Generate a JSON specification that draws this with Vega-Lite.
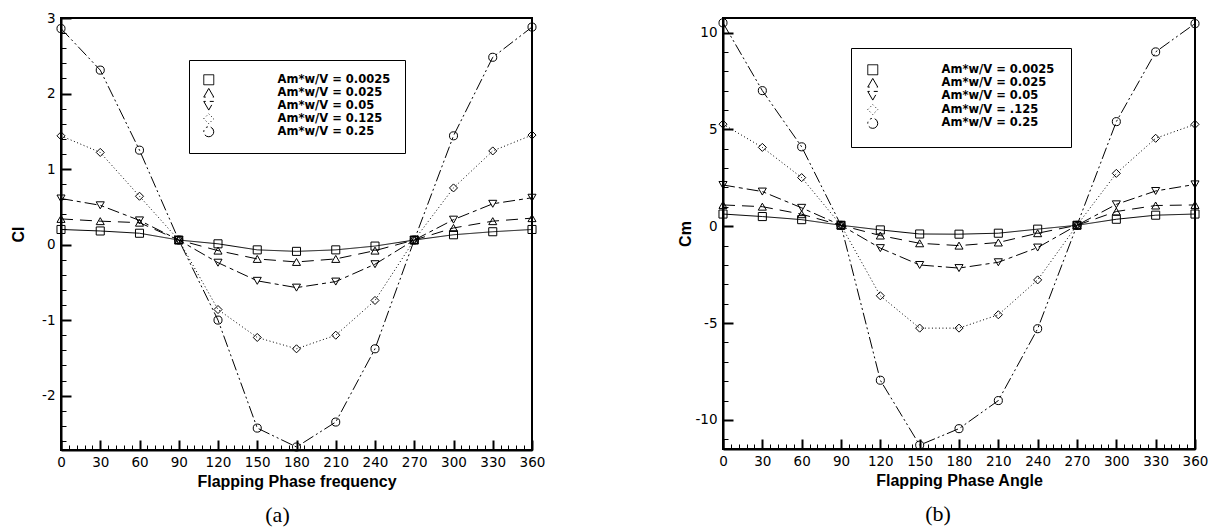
{
  "$schema": "https://vega.github.io/schema/vega-lite/v6.json",
  "background": "white",
  "padding": {"left": 9, "top": 10, "right": 0, "bottom": 0},
  "spacing": 130,
  "resolve": {"scale": {"shape": "independent", "strokeDash": "independent"}, "legend": {"shape": "independent", "strokeDash": "independent"}},
  "config": {
    "view": {"stroke": "black", "strokeWidth": 2},
    "axis": {
      "grid": false, "domainColor": "black", "domainWidth": 2, "tickColor": "black",
      "labelFont": "DejaVu Sans", "labelFontSize": 13.5, "labelColor": "black",
      "titleFont": "Liberation Sans", "titleFontSize": 16, "titleFontWeight": "bold", "titleColor": "black",
      "labelOverlap": false, "labelFlush": false
    },
    "legend": {
      "orient": "none", "title": null, "strokeColor": "black", "fillColor": "white",
      "labelFont": "DejaVu Sans", "labelFontWeight": "bold", "labelFontSize": 11.5, "labelColor": "black",
      "symbolSize": 100, "symbolStrokeWidth": 1, "symbolStrokeColor": "black", "labelOffset": 63
    }
  },
  "datasets": {
    "cl": [
      {"phase": 0, "series": "Am*w/V = 0.0025", "value": 0.2},
      {"phase": 30, "series": "Am*w/V = 0.0025", "value": 0.18},
      {"phase": 60, "series": "Am*w/V = 0.0025", "value": 0.15},
      {"phase": 90, "series": "Am*w/V = 0.0025", "value": 0.06},
      {"phase": 120, "series": "Am*w/V = 0.0025", "value": 0.01},
      {"phase": 150, "series": "Am*w/V = 0.0025", "value": -0.07},
      {"phase": 180, "series": "Am*w/V = 0.0025", "value": -0.09},
      {"phase": 210, "series": "Am*w/V = 0.0025", "value": -0.07},
      {"phase": 240, "series": "Am*w/V = 0.0025", "value": -0.02},
      {"phase": 270, "series": "Am*w/V = 0.0025", "value": 0.06},
      {"phase": 300, "series": "Am*w/V = 0.0025", "value": 0.13},
      {"phase": 330, "series": "Am*w/V = 0.0025", "value": 0.17},
      {"phase": 360, "series": "Am*w/V = 0.0025", "value": 0.2},
      {"phase": 0, "series": "Am*w/V = 0.025", "value": 0.34},
      {"phase": 30, "series": "Am*w/V = 0.025", "value": 0.31},
      {"phase": 60, "series": "Am*w/V = 0.025", "value": 0.29},
      {"phase": 90, "series": "Am*w/V = 0.025", "value": 0.06},
      {"phase": 120, "series": "Am*w/V = 0.025", "value": -0.08},
      {"phase": 150, "series": "Am*w/V = 0.025", "value": -0.19},
      {"phase": 180, "series": "Am*w/V = 0.025", "value": -0.23},
      {"phase": 210, "series": "Am*w/V = 0.025", "value": -0.19},
      {"phase": 240, "series": "Am*w/V = 0.025", "value": -0.08},
      {"phase": 270, "series": "Am*w/V = 0.025", "value": 0.06},
      {"phase": 300, "series": "Am*w/V = 0.025", "value": 0.22},
      {"phase": 330, "series": "Am*w/V = 0.025", "value": 0.31},
      {"phase": 360, "series": "Am*w/V = 0.025", "value": 0.35},
      {"phase": 0, "series": "Am*w/V = 0.05", "value": 0.61},
      {"phase": 30, "series": "Am*w/V = 0.05", "value": 0.52},
      {"phase": 60, "series": "Am*w/V = 0.05", "value": 0.32},
      {"phase": 90, "series": "Am*w/V = 0.05", "value": 0.06},
      {"phase": 120, "series": "Am*w/V = 0.05", "value": -0.24},
      {"phase": 150, "series": "Am*w/V = 0.05", "value": -0.48},
      {"phase": 180, "series": "Am*w/V = 0.05", "value": -0.57},
      {"phase": 210, "series": "Am*w/V = 0.05", "value": -0.49},
      {"phase": 240, "series": "Am*w/V = 0.05", "value": -0.26},
      {"phase": 270, "series": "Am*w/V = 0.05", "value": 0.06},
      {"phase": 300, "series": "Am*w/V = 0.05", "value": 0.33},
      {"phase": 330, "series": "Am*w/V = 0.05", "value": 0.54},
      {"phase": 360, "series": "Am*w/V = 0.05", "value": 0.62},
      {"phase": 0, "series": "Am*w/V = 0.125", "value": 1.44},
      {"phase": 30, "series": "Am*w/V = 0.125", "value": 1.22},
      {"phase": 60, "series": "Am*w/V = 0.125", "value": 0.64},
      {"phase": 90, "series": "Am*w/V = 0.125", "value": 0.06},
      {"phase": 120, "series": "Am*w/V = 0.125", "value": -0.86},
      {"phase": 150, "series": "Am*w/V = 0.125", "value": -1.23},
      {"phase": 180, "series": "Am*w/V = 0.125", "value": -1.38},
      {"phase": 210, "series": "Am*w/V = 0.125", "value": -1.2},
      {"phase": 240, "series": "Am*w/V = 0.125", "value": -0.74},
      {"phase": 270, "series": "Am*w/V = 0.125", "value": 0.06},
      {"phase": 300, "series": "Am*w/V = 0.125", "value": 0.75},
      {"phase": 330, "series": "Am*w/V = 0.125", "value": 1.24},
      {"phase": 360, "series": "Am*w/V = 0.125", "value": 1.45},
      {"phase": 0, "series": "Am*w/V = 0.25", "value": 2.86},
      {"phase": 30, "series": "Am*w/V = 0.25", "value": 2.31},
      {"phase": 60, "series": "Am*w/V = 0.25", "value": 1.25},
      {"phase": 90, "series": "Am*w/V = 0.25", "value": 0.06},
      {"phase": 120, "series": "Am*w/V = 0.25", "value": -1.0},
      {"phase": 150, "series": "Am*w/V = 0.25", "value": -2.43},
      {"phase": 180, "series": "Am*w/V = 0.25", "value": -2.68},
      {"phase": 210, "series": "Am*w/V = 0.25", "value": -2.35},
      {"phase": 240, "series": "Am*w/V = 0.25", "value": -1.38},
      {"phase": 270, "series": "Am*w/V = 0.25", "value": 0.06},
      {"phase": 300, "series": "Am*w/V = 0.25", "value": 1.44},
      {"phase": 330, "series": "Am*w/V = 0.25", "value": 2.48},
      {"phase": 360, "series": "Am*w/V = 0.25", "value": 2.88}
    ],
    "cm": [
      {"phase": 0, "series": "Am*w/V = 0.0025", "value": 0.63},
      {"phase": 30, "series": "Am*w/V = 0.0025", "value": 0.5},
      {"phase": 60, "series": "Am*w/V = 0.0025", "value": 0.34},
      {"phase": 90, "series": "Am*w/V = 0.0025", "value": 0.05},
      {"phase": 120, "series": "Am*w/V = 0.0025", "value": -0.19},
      {"phase": 150, "series": "Am*w/V = 0.0025", "value": -0.4},
      {"phase": 180, "series": "Am*w/V = 0.0025", "value": -0.41},
      {"phase": 210, "series": "Am*w/V = 0.0025", "value": -0.36},
      {"phase": 240, "series": "Am*w/V = 0.0025", "value": -0.15},
      {"phase": 270, "series": "Am*w/V = 0.0025", "value": 0.05},
      {"phase": 300, "series": "Am*w/V = 0.0025", "value": 0.36},
      {"phase": 330, "series": "Am*w/V = 0.0025", "value": 0.57},
      {"phase": 360, "series": "Am*w/V = 0.0025", "value": 0.63},
      {"phase": 0, "series": "Am*w/V = 0.025", "value": 1.1},
      {"phase": 30, "series": "Am*w/V = 0.025", "value": 1.01},
      {"phase": 60, "series": "Am*w/V = 0.025", "value": 0.62},
      {"phase": 90, "series": "Am*w/V = 0.025", "value": 0.05},
      {"phase": 120, "series": "Am*w/V = 0.025", "value": -0.48},
      {"phase": 150, "series": "Am*w/V = 0.025", "value": -0.88},
      {"phase": 180, "series": "Am*w/V = 0.025", "value": -1.0},
      {"phase": 210, "series": "Am*w/V = 0.025", "value": -0.84},
      {"phase": 240, "series": "Am*w/V = 0.025", "value": -0.36},
      {"phase": 270, "series": "Am*w/V = 0.025", "value": 0.05},
      {"phase": 300, "series": "Am*w/V = 0.025", "value": 0.76},
      {"phase": 330, "series": "Am*w/V = 0.025", "value": 1.07},
      {"phase": 360, "series": "Am*w/V = 0.025", "value": 1.1},
      {"phase": 0, "series": "Am*w/V = 0.05", "value": 2.13},
      {"phase": 30, "series": "Am*w/V = 0.05", "value": 1.79},
      {"phase": 60, "series": "Am*w/V = 0.05", "value": 0.95},
      {"phase": 90, "series": "Am*w/V = 0.05", "value": 0.05},
      {"phase": 120, "series": "Am*w/V = 0.05", "value": -1.13},
      {"phase": 150, "series": "Am*w/V = 0.05", "value": -2.0},
      {"phase": 180, "series": "Am*w/V = 0.05", "value": -2.16},
      {"phase": 210, "series": "Am*w/V = 0.05", "value": -1.86},
      {"phase": 240, "series": "Am*w/V = 0.05", "value": -1.1},
      {"phase": 270, "series": "Am*w/V = 0.05", "value": 0.05},
      {"phase": 300, "series": "Am*w/V = 0.05", "value": 1.13},
      {"phase": 330, "series": "Am*w/V = 0.05", "value": 1.82},
      {"phase": 360, "series": "Am*w/V = 0.05", "value": 2.16},
      {"phase": 0, "series": "Am*w/V = .125", "value": 5.27},
      {"phase": 30, "series": "Am*w/V = .125", "value": 4.07},
      {"phase": 60, "series": "Am*w/V = .125", "value": 2.51},
      {"phase": 90, "series": "Am*w/V = .125", "value": 0.05},
      {"phase": 120, "series": "Am*w/V = .125", "value": -3.59},
      {"phase": 150, "series": "Am*w/V = .125", "value": -5.26},
      {"phase": 180, "series": "Am*w/V = .125", "value": -5.26},
      {"phase": 210, "series": "Am*w/V = .125", "value": -4.57},
      {"phase": 240, "series": "Am*w/V = .125", "value": -2.77},
      {"phase": 270, "series": "Am*w/V = .125", "value": 0.05},
      {"phase": 300, "series": "Am*w/V = .125", "value": 2.73},
      {"phase": 330, "series": "Am*w/V = .125", "value": 4.54},
      {"phase": 360, "series": "Am*w/V = .125", "value": 5.26},
      {"phase": 0, "series": "Am*w/V = 0.25", "value": 10.5},
      {"phase": 30, "series": "Am*w/V = 0.25", "value": 7.0},
      {"phase": 60, "series": "Am*w/V = 0.25", "value": 4.1},
      {"phase": 90, "series": "Am*w/V = 0.25", "value": 0.05},
      {"phase": 120, "series": "Am*w/V = 0.25", "value": -7.95},
      {"phase": 150, "series": "Am*w/V = 0.25", "value": -11.3},
      {"phase": 180, "series": "Am*w/V = 0.25", "value": -10.45},
      {"phase": 210, "series": "Am*w/V = 0.25", "value": -9.0},
      {"phase": 240, "series": "Am*w/V = 0.25", "value": -5.29},
      {"phase": 270, "series": "Am*w/V = 0.25", "value": 0.05},
      {"phase": 300, "series": "Am*w/V = 0.25", "value": 5.4},
      {"phase": 330, "series": "Am*w/V = 0.25", "value": 9.0},
      {"phase": 360, "series": "Am*w/V = 0.25", "value": 10.46}
    ]
  },
  "hconcat": [
    {
      "width": 471, "height": 432,
      "data": {"name": "cl"},
      "title": {"text": "(a)", "orient": "bottom", "anchor": "middle", "dx": -19, "offset": 15, "font": "Liberation Serif", "fontSize": 22, "fontWeight": "normal", "color": "black"},
      "resolve": {"axis": {"x": "independent", "y": "independent"}},
      "layer": [
        {
          "mark": {"type": "line", "color": "black", "strokeWidth": 1},
          "encoding": {
            "x": {"field": "phase", "type": "quantitative", "scale": {"domain": [0, 360], "nice": false},
              "axis": {"title": "Flapping Phase frequency", "orient": "bottom",
                "values": [0,30,60,90,120,150,180,210,240,270,300,330,360],
                "labelExpr": "toString(datum.value)",
                "tickSize": -10, "tickWidth": 2, "labelOverlap": false, "labelFlush": false,
                "labelPadding": 15, "titlePadding": 5}},
            "y": {"field": "value", "type": "quantitative", "scale": {"domain": [-2.72, 3], "nice": false, "zero": false},
              "axis": {"title": "Cl", "orient": "left",
                "values": [-2,-1,0,1,2,3],
                "labelExpr": "toString(datum.value)",
                "tickSize": -10, "tickWidth": 2, "labelOverlap": false, "labelFlush": false,
                "labelPadding": 16, "titlePadding": 15}},
            "strokeDash": {"field": "series", "type": "nominal",
              "scale": {"domain": ["Am*w/V = 0.0025", "Am*w/V = 0.025", "Am*w/V = 0.05", "Am*w/V = 0.125", "Am*w/V = 0.25"],
                "range": [[1, 0], [12, 7], [12, 4, 4, 4], [1, 2.5], [12, 3, 2, 3, 2, 3]]},
              "legend": {"legendX": 128, "legendY": 42, "padding": 14, "rowPadding": -3}}
          }
        },
        {
          "mark": {"type": "point", "filled": false, "color": "black", "strokeWidth": 1, "size": 65, "opacity": 1},
          "encoding": {
            "x": {"field": "phase", "type": "quantitative",
              "axis": {"title": null, "orient": "bottom", "labels": false, "domain": false, "tickSize": -5, "tickWidth": 1,
                "values": [6,12,18,24,36,42,48,54,66,72,78,84,96,102,108,114,126,132,138,144,156,162,168,174,186,192,198,204,216,222,228,234,246,252,258,264,276,282,288,294,306,312,318,324,336,342,348,354]}},
            "y": {"field": "value", "type": "quantitative",
              "axis": {"title": null, "orient": "left", "labels": false, "domain": false, "tickSize": -5, "tickWidth": 1,
                "values": [-2.6,-2.4,-2.2,-1.8,-1.6,-1.4,-1.2,-0.8,-0.6,-0.4,-0.2,0.2,0.4,0.6,0.8,1.2,1.4,1.6,1.8,2.2,2.4,2.6,2.8]}},
            "shape": {"field": "series", "type": "nominal",
              "scale": {"domain": ["Am*w/V = 0.0025", "Am*w/V = 0.025", "Am*w/V = 0.05", "Am*w/V = 0.125", "Am*w/V = 0.25"],
                "range": ["square", "triangle-up", "triangle-down", "diamond", "circle"]},
              "legend": {"legendX": 128, "legendY": 42, "padding": 14, "rowPadding": -3}}
          }
        }
      ]
    },
    {
      "width": 472, "height": 431,
      "data": {"name": "cm"},
      "title": {"text": "(b)", "orient": "bottom", "anchor": "middle", "dx": -21, "offset": 15, "font": "Liberation Serif", "fontSize": 22, "fontWeight": "normal", "color": "black"},
      "resolve": {"axis": {"x": "independent", "y": "independent"}},
      "layer": [
        {
          "mark": {"type": "line", "color": "black", "strokeWidth": 1},
          "encoding": {
            "x": {"field": "phase", "type": "quantitative", "scale": {"domain": [0, 360], "nice": false},
              "axis": {"title": "Flapping Phase Angle", "orient": "bottom",
                "values": [0,30,60,90,120,150,180,210,240,270,300,330,360],
                "labelExpr": "toString(datum.value)",
                "tickSize": -10, "tickWidth": 2, "labelOverlap": false, "labelFlush": false,
                "labelPadding": 15, "titlePadding": 5}},
            "y": {"field": "value", "type": "quantitative", "scale": {"domain": [-11.5, 10.75], "nice": false, "zero": false},
              "axis": {"title": "Cm", "orient": "left",
                "values": [-10,-5,0,5,10],
                "labelExpr": "toString(datum.value)",
                "tickSize": -10, "tickWidth": 2, "labelOverlap": false, "labelFlush": false,
                "labelPadding": 16, "titlePadding": 1}},
            "strokeDash": {"field": "series", "type": "nominal",
              "scale": {"domain": ["Am*w/V = 0.0025", "Am*w/V = 0.025", "Am*w/V = 0.05", "Am*w/V = .125", "Am*w/V = 0.25"],
                "range": [[1, 0], [12, 7], [12, 4, 4, 4], [1, 2.5], [12, 3, 2, 3, 2, 3]]},
              "legend": {"legendX": 128, "legendY": 30, "padding": 16, "rowPadding": -1.2}}
          }
        },
        {
          "mark": {"type": "point", "filled": false, "color": "black", "strokeWidth": 1, "size": 65, "opacity": 1},
          "encoding": {
            "x": {"field": "phase", "type": "quantitative",
              "axis": {"title": null, "orient": "bottom", "labels": false, "domain": false, "tickSize": -5, "tickWidth": 1,
                "values": [6,12,18,24,36,42,48,54,66,72,78,84,96,102,108,114,126,132,138,144,156,162,168,174,186,192,198,204,216,222,228,234,246,252,258,264,276,282,288,294,306,312,318,324,336,342,348,354]}},
            "y": {"field": "value", "type": "quantitative",
              "axis": {"title": null, "orient": "left", "labels": false, "domain": false, "tickSize": -5, "tickWidth": 1,
                "values": [-11,-9,-8,-7,-6,-4,-3,-2,-1,1,2,3,4,6,7,8,9]}},
            "shape": {"field": "series", "type": "nominal",
              "scale": {"domain": ["Am*w/V = 0.0025", "Am*w/V = 0.025", "Am*w/V = 0.05", "Am*w/V = .125", "Am*w/V = 0.25"],
                "range": ["square", "triangle-up", "triangle-down", "diamond", "circle"]},
              "legend": {"legendX": 128, "legendY": 30, "padding": 16, "rowPadding": -1.2}}
          }
        }
      ]
    }
  ]
}
